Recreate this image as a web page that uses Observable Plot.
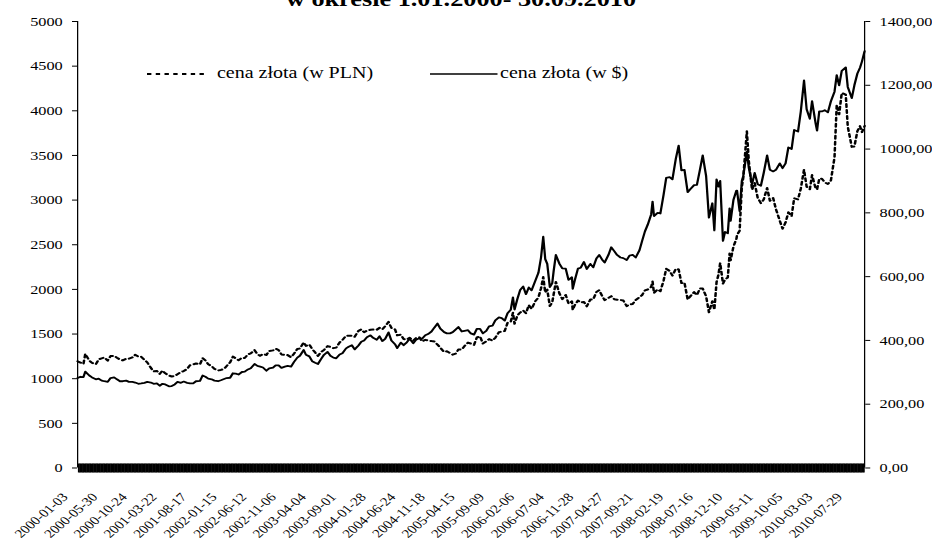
<!DOCTYPE html>
<html>
<head>
<meta charset="utf-8">
<script src="https://cdn.jsdelivr.net/npm/d3@7"></script>
<script src="https://cdn.jsdelivr.net/npm/@observablehq/plot@0.6"></script>
<style>
html, body { margin: 0; padding: 0; background: #fff; overflow: hidden; }
#wrap { position: relative; width: 745.6px; height: 545px; transform: scaleX(1.25); transform-origin: 0 0;
        font-family: "Liberation Serif", "Times New Roman", serif; color: #000; }
#title { position: absolute; left: -4px; top: -10.6px; width: 745.6px; text-align: center; font-weight: bold;
         font-size: 21px; line-height: 21px; white-space: nowrap; }
#chart { position: absolute; left: 0; top: 0; }
#legend { position: absolute; left: 0; top: 0; width: 745.6px; height: 100px; pointer-events: none; }
.legtxt { position: absolute; top: 64.5px; font-size: 16px; line-height: 16px; white-space: nowrap; }
</style>
</head>
<body>
<div id="wrap">
  <div id="title">w okresie 1.01.2000- 30.09.2010</div>
  <div id="chart"></div>
  <div id="legend"></div>
</div>
<script>
// ---- data ----
const dates = [
"2000-01-03","2000-01-17","2000-02-01","2000-02-10","2000-03-01","2000-03-15","2000-04-03","2000-04-17","2000-05-02","2000-05-15","2000-06-01","2000-06-15","2000-07-03","2000-07-17","2000-08-01","2000-08-15","2000-09-01","2000-09-15","2000-10-02","2000-10-16","2000-11-01","2000-11-15","2000-12-01","2000-12-15",
"2001-01-02","2001-01-16","2001-02-01","2001-02-15","2001-03-01","2001-03-15","2001-04-02","2001-04-16","2001-05-01","2001-05-15","2001-06-01","2001-06-15","2001-07-02","2001-07-16","2001-08-01","2001-08-15","2001-09-04","2001-09-17","2001-10-01","2001-10-15","2001-11-01","2001-11-15","2001-12-03","2001-12-17",
"2002-01-02","2002-01-15","2002-02-01","2002-02-15","2002-03-01","2002-03-15","2002-04-01","2002-04-15","2002-05-01","2002-05-15","2002-06-03","2002-06-17","2002-07-01","2002-07-15","2002-08-01","2002-08-15","2002-09-03","2002-09-16","2002-10-01","2002-10-15","2002-11-01","2002-11-15","2002-12-02","2002-12-16",
"2003-01-02","2003-01-15","2003-02-03","2003-02-14","2003-03-03","2003-03-17","2003-04-01","2003-04-15","2003-05-01","2003-05-15","2003-06-02","2003-06-16","2003-07-01","2003-07-15","2003-08-01","2003-08-15","2003-09-02","2003-09-15","2003-10-01","2003-10-15","2003-11-03","2003-11-17","2003-12-01","2003-12-15",
"2004-01-02","2004-01-15","2004-02-02","2004-02-16","2004-03-01","2004-03-15","2004-04-01","2004-04-15","2004-05-03","2004-05-14","2004-06-01","2004-06-15","2004-07-01","2004-07-15","2004-08-02","2004-08-16","2004-09-01","2004-09-15","2004-10-01","2004-10-15","2004-11-01","2004-11-15","2004-12-01","2004-12-15",
"2005-01-03","2005-01-17","2005-02-01","2005-02-15","2005-03-01","2005-03-15","2005-04-01","2005-04-15","2005-05-02","2005-05-16","2005-06-01","2005-06-15","2005-07-01","2005-07-15","2005-08-01","2005-08-15","2005-09-01","2005-09-15","2005-10-03","2005-10-17","2005-11-01","2005-11-15","2005-12-01","2005-12-12","2005-12-20",
"2006-01-03","2006-01-17","2006-02-01","2006-02-15","2006-03-01","2006-03-15","2006-04-03","2006-04-18","2006-05-01","2006-05-12","2006-05-22","2006-06-01","2006-06-14","2006-06-26","2006-07-03","2006-07-14","2006-08-01","2006-08-15","2006-09-01","2006-09-15","2006-10-02","2006-10-06","2006-10-16","2006-11-01","2006-11-15","2006-12-01","2006-12-15",
"2007-01-02","2007-01-16","2007-02-01","2007-02-15","2007-03-01","2007-03-14","2007-04-02","2007-04-16","2007-05-01","2007-05-15","2007-06-01","2007-06-15","2007-07-02","2007-07-16","2007-08-01","2007-08-16","2007-09-04","2007-09-17","2007-10-01","2007-10-15","2007-11-01","2007-11-08","2007-11-15","2007-12-03","2007-12-17",
"2008-01-02","2008-01-15","2008-02-01","2008-02-15","2008-03-03","2008-03-17","2008-03-31","2008-04-15","2008-05-01","2008-05-15","2008-06-02","2008-06-16","2008-07-01","2008-07-15","2008-08-01","2008-08-15","2008-09-01","2008-09-11","2008-09-22","2008-10-01","2008-10-10","2008-10-24","2008-11-03","2008-11-17","2008-11-26","2008-12-01","2008-12-15","2008-12-30",
"2009-01-02","2009-01-15","2009-01-26","2009-02-02","2009-02-20","2009-03-02","2009-03-18","2009-03-31","2009-04-15","2009-05-01","2009-05-15","2009-06-01","2009-06-15","2009-07-01","2009-07-15","2009-08-03","2009-08-17","2009-09-01","2009-09-15","2009-10-01","2009-10-14","2009-11-02","2009-11-16","2009-12-02","2009-12-15","2009-12-31",
"2010-01-11","2010-01-29","2010-02-05","2010-02-16","2010-03-01","2010-03-15","2010-03-31","2010-04-15","2010-05-03","2010-05-14","2010-05-26","2010-06-08","2010-06-28","2010-07-08","2010-07-28","2010-08-10","2010-08-25","2010-09-07","2010-09-17","2010-09-30"
];
// cena złota (w $) – right axis
const usdValues = [
282,286,285,302,290,284,278,280,274,272,270,282,284,278,272,272,274,270,270,268,264,265,267,270,
268,264,265,258,264,262,256,257,262,270,267,271,267,265,265,272,273,290,286,280,278,274,272,275,
279,282,283,297,296,293,301,302,309,313,326,320,318,315,305,312,315,322,322,314,318,320,318,332,
346,352,370,355,350,335,330,326,342,355,364,352,346,344,356,360,375,380,385,372,384,396,400,410,
416,408,402,413,398,405,425,400,388,376,393,385,394,405,391,402,407,405,416,420,428,440,453,437,
426,422,422,426,434,442,428,430,432,422,418,436,436,422,430,444,446,463,472,470,462,485,496,535,497,
530,558,569,545,566,557,588,612,660,725,655,640,567,580,618,668,640,626,625,590,598,562,588,625,628,646,624,
640,629,657,668,654,644,668,692,680,668,660,658,652,666,668,660,683,712,742,763,795,835,790,800,798,
857,910,912,905,970,1011,933,935,865,875,887,888,935,980,915,785,830,745,905,882,900,712,740,736,814,775,840,870,
870,805,900,915,992,940,890,925,890,885,925,980,935,930,935,955,940,955,1005,1000,1060,1055,1118,1215,1125,1095,
1150,1080,1058,1118,1118,1122,1115,1150,1180,1232,1200,1245,1256,1195,1160,1200,1237,1255,1275,1307
];
// cena złota (w PLN) – left axis
const plnValues = [
1195,1181,1164,1278,1203,1177,1162,1217,1228,1238,1202,1253,1256,1235,1214,1205,1224,1224,1238,1268,1246,1245,1211,1183,
1121,1082,1087,1053,1091,1060,1035,1025,1030,1050,1075,1085,1110,1150,1160,1170,1160,1230,1204,1162,1140,1110,1092,1098,
1110,1142,1183,1247,1228,1207,1234,1232,1273,1283,1320,1274,1256,1276,1266,1310,1317,1336,1320,1272,1266,1264,1240,1278,
1332,1338,1406,1367,1383,1333,1294,1255,1300,1321,1365,1355,1342,1348,1406,1433,1481,1482,1482,1469,1536,1552,1520,1538,
1548,1550,1548,1569,1552,1588,1636,1568,1552,1485,1493,1444,1438,1458,1427,1455,1465,1418,1435,1428,1421,1417,1382,1346,
1299,1308,1287,1269,1280,1326,1327,1367,1404,1393,1379,1461,1474,1393,1419,1443,1427,1458,1520,1528,1534,1625,1637,1739,1615,
1707,1741,1764,1733,1823,1782,1870,1909,2013,2139,1965,1997,1814,1856,1947,2084,1952,1891,1938,1841,1866,1770,1823,1875,1853,1860,1810,
1888,1887,1971,1991,1929,1880,1904,1924,1890,1884,1881,1875,1813,1832,1837,1881,1912,1937,1989,1999,2027,2088,1959,2000,1979,
2100,2230,2207,2154,2231,2224,2071,2076,1886,1925,1969,1936,2010,2009,1922,1743,1868,1773,2082,2161,2295,2065,2109,2134,2401,2325,2478,2567,
2610,2657,3150,3248,3770,3431,3115,3191,3026,2965,3006,3136,2992,3023,2899,2770,2679,2750,2864,2820,3021,3007,3130,3341,3150,3121,
3280,3130,3120,3240,3240,3200,3180,3220,3480,4065,3960,4200,4180,3824,3596,3600,3773,3828,3761,3830
];
// tick labels
const labelDateStrings = ["2000-01-03","2000-05-30","2000-10-24","2001-03-22","2001-08-17","2002-01-15","2002-06-12","2002-11-06","2003-04-04","2003-09-01","2004-01-28","2004-06-24","2004-11-18","2005-04-15","2005-09-09","2006-02-06","2006-07-04","2006-11-28","2007-04-27","2007-09-21","2008-02-19","2008-07-16","2008-12-10","2009-05-11","2009-10-05","2010-03-03","2010-07-29"];
const leftTicks = [0,500,1000,1500,2000,2500,3000,3500,4000,4500,5000];
const rightTicks = [0,200,400,600,800,1000,1200,1400];
const seriesNames = ["cena złota (w PLN)", "cena złota (w $)"];

// ---- build ----
const parse = d3.utcParse("%Y-%m-%d");
const fmt = d3.utcFormat("%Y-%m-%d");
const k = 5000 / 1400;
const data = dates.map((d, i) => ({date: parse(d), pln: plnValues[i], usd: usdValues[i]}));
const x0 = data[0].date, x1 = parse("2010-09-30");
const labelDates = labelDateStrings.map(parse);
const bandTicks = d3.utcWeek.range(x0, x1);

const W0 = 932 / 1.25;
const chart = Plot.plot({
  width: W0, height: 545,
  marginLeft: 61.6, marginRight: 54.4, marginTop: 21, marginBottom: 77.5,
  style: {fontFamily: "'Liberation Serif', 'Times New Roman', serif", fontSize: "13px", color: "#000", background: "transparent", overflow: "visible"},
  x: {type: "utc", domain: [x0, x1], label: null},
  y: {domain: [0, 5000], label: null},
  marks: [
    Plot.axisY(leftTicks, {anchor: "left", tickSize: 4, tickPadding: 8, tickFormat: d => String(d), label: null}),
    Plot.axisY(rightTicks.map(v => v * k), {anchor: "right", tickSize: 4, tickPadding: 8, tickFormat: d => (d / k).toFixed(2).replace(".", ","), label: null}),
    Plot.axisX(bandTicks, {anchor: "bottom", tickSize: 9, dy: -4, tickFormat: () => "", label: null, strokeWidth: 1.5}),
    Plot.axisX(labelDates, {anchor: "bottom", tickSize: 0, tickPadding: 27, dx: -10, tickRotate: -47, tickFormat: fmt, fontSize: 12, label: null}),
    Plot.ruleX([x0], {stroke: "#000", strokeWidth: 1}),
    Plot.ruleX([x1], {stroke: "#000", strokeWidth: 1}),
    Plot.line(data, {x: "date", y: "pln", stroke: "#000", strokeWidth: 2, strokeDasharray: "3,3"}),
    Plot.line(data, {x: "date", y: d => d.usd * k, stroke: "#000", strokeWidth: 1.8})
  ]
});
document.getElementById("chart").appendChild(chart);

// ---- legend ----
const leg = document.getElementById("legend");
leg.innerHTML =
  '<svg width="745.6" height="100" style="position:absolute;left:0;top:0">' +
  '<line x1="117.6" x2="166.4" y1="74" y2="74" stroke="#000" stroke-width="2" stroke-dasharray="3.5,3.5"/>' +
  '<line x1="344" x2="398" y1="74" y2="74" stroke="#000" stroke-width="1.5"/>' +
  '</svg>' +
  '<div class="legtxt" style="left:173.6px">' + seriesNames[0] + '</div>' +
  '<div class="legtxt" style="left:400px">' + seriesNames[1] + '</div>';
</script>
</body>
</html>
